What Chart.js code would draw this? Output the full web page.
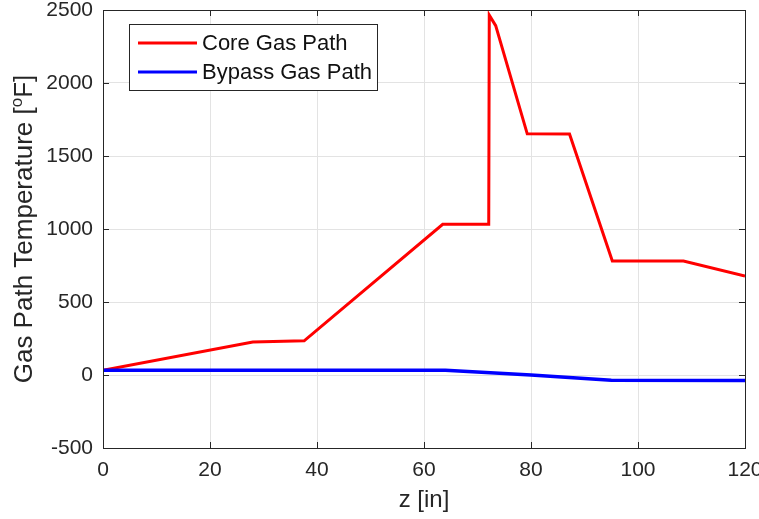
<!DOCTYPE html>
<html>
<head>
<meta charset="utf-8">
<script src="https://cdn.jsdelivr.net/npm/chart.js@4/dist/chart.umd.min.js"></script>
<style>
  html, body { margin: 0; padding: 0; background: #fff; }
  #wrap { width: 759px; height: 519px; }
</style>
</head>
<body>
<div id="wrap"><canvas id="myChart" width="759" height="519"></canvas></div>
<script>
// core gas path (red)
const coreZ = [0, 28, 37.6, 63.5, 72.1, 72.2, 73.4, 79.3, 87.2, 95.2, 108.5, 120];
const coreTemp = [33, 226, 234, 1032, 1032, 2465, 2393, 1652, 1650, 781, 781, 677];

// bypass gas path (blue)
const bypassZ = [0, 64, 80, 95, 120];
const bypassTemp = [33, 33, 0, -36, -37];

const seriesNames = ["Core Gas Path", "Bypass Gas Path"];
const seriesColors = ["#ff0000", "#0000ff"];

const xTicks = [0, 20, 40, 60, 80, 100, 120];
const yTicks = [-500, 0, 500, 1000, 1500, 2000, 2500];

const FONT = "'Liberation Sans', Arial, Helvetica, sans-serif";
const AXIS_COLOR = "#262626";

function toPoints(xs, ys) {
    return xs.map(function (x, i) { return { x: x, y: ys[i] }; });
}

// box round the axes, inward ticks, axis titles and the legend
const matlabLook = {
    id: "matlabLook",
    afterDraw: function (chart) {
        const ctx = chart.ctx;
        const a = chart.chartArea;
        const xs = chart.scales.x;
        const ys = chart.scales.y;
        ctx.save();

        // box
        ctx.strokeStyle = AXIS_COLOR;
        ctx.lineWidth = 1;
        ctx.strokeRect(Math.round(a.left) + 0.5, Math.round(a.top) + 0.5,
            Math.round(a.right - a.left), Math.round(a.bottom - a.top));

        // inward ticks
        ctx.beginPath();
        xTicks.forEach(function (v) {
            const px = Math.round(xs.getPixelForValue(v)) + 0.5;
            ctx.moveTo(px, a.bottom); ctx.lineTo(px, a.bottom - 6);
            ctx.moveTo(px, a.top); ctx.lineTo(px, a.top + 6);
        });
        yTicks.forEach(function (v) {
            const py = Math.round(ys.getPixelForValue(v)) + 0.5;
            ctx.moveTo(a.left, py); ctx.lineTo(a.left + 6, py);
            ctx.moveTo(a.right, py); ctx.lineTo(a.right - 6, py);
        });
        ctx.stroke();

        // x title
        ctx.fillStyle = AXIS_COLOR;
        ctx.font = "24px " + FONT;
        ctx.textAlign = "center";
        ctx.textBaseline = "middle";
        ctx.fillText("z [in]", (a.left + a.right) / 2, 500);

        // y title with superscript o
        const part1 = "Gas Path Temperature [";
        const sup = "o";
        const part2 = "F]";
        ctx.font = "26px " + FONT;
        const w1 = ctx.measureText(part1).width;
        const w3 = ctx.measureText(part2).width;
        ctx.font = "17px " + FONT;
        const w2 = ctx.measureText(sup).width;
        const total = w1 + w2 + w3;
        ctx.translate(25, (a.top + a.bottom) / 2);
        ctx.rotate(-Math.PI / 2);
        ctx.textAlign = "left";
        ctx.font = "26px " + FONT;
        ctx.fillText(part1, -total / 2, 0);
        ctx.font = "17px " + FONT;
        ctx.fillText(sup, -total / 2 + w1, -8);
        ctx.font = "26px " + FONT;
        ctx.fillText(part2, -total / 2 + w1 + w2, 0);
        ctx.setTransform(1, 0, 0, 1, 0, 0);

        // legend
        const lx = 129.5, ly = 24.5, lw = 248, lh = 66;
        ctx.fillStyle = "#ffffff";
        ctx.fillRect(lx, ly, lw, lh);
        ctx.strokeStyle = AXIS_COLOR;
        ctx.lineWidth = 1;
        ctx.strokeRect(lx, ly, lw, lh);
        const rowY = [43, 72];
        ctx.font = "22px " + FONT;
        ctx.textAlign = "left";
        ctx.textBaseline = "middle";
        seriesNames.forEach(function (name, i) {
            ctx.strokeStyle = seriesColors[i];
            ctx.lineWidth = 3;
            ctx.beginPath();
            ctx.moveTo(138, rowY[i]);
            ctx.lineTo(197, rowY[i]);
            ctx.stroke();
            ctx.fillStyle = "#111111";
            ctx.fillText(name, 202, rowY[i] + 1);
        });

        ctx.restore();
    }
};

const ctx = document.getElementById("myChart").getContext("2d");
const myChart = new Chart(ctx, {
    type: "line",
    data: {
        datasets: [
            {
                label: seriesNames[0],
                data: toPoints(coreZ, coreTemp),
                borderColor: seriesColors[0],
                borderWidth: 3,
                pointRadius: 0,
                tension: 0,
                order: 1
            },
            {
                label: seriesNames[1],
                data: toPoints(bypassZ, bypassTemp),
                borderColor: seriesColors[1],
                borderWidth: 3.5,
                pointRadius: 0,
                tension: 0,
                order: 0
            }
        ]
    },
    options: {
        responsive: false,
        animation: false,
        layout: { padding: { top: 10, right: 14, bottom: 0, left: 0 } },
        plugins: {
            legend: { display: false },
            tooltip: { enabled: false }
        },
        scales: {
            x: {
                type: "linear",
                min: 0,
                max: 120,
                afterBuildTicks: function (scale) {
                    scale.ticks = xTicks.map(function (v) { return { value: v }; });
                },
                afterFit: function (scale) {
                    scale.height = 71;
                    scale.paddingLeft = 0;
                    scale.paddingRight = 0;
                },
                grid: { color: "#e3e3e3", drawTicks: false },
                border: { display: false },
                ticks: {
                    padding: 10,
                    color: AXIS_COLOR,
                    font: { family: FONT, size: 21 },
                    maxRotation: 0,
                    callback: function (v) { return String(v); }
                }
            },
            y: {
                type: "linear",
                min: -500,
                max: 2500,
                afterBuildTicks: function (scale) {
                    scale.ticks = yTicks.map(function (v) { return { value: v }; });
                },
                afterFit: function (scale) {
                    scale.width = 103;
                    scale.paddingTop = 0;
                    scale.paddingBottom = 0;
                },
                grid: { color: "#e3e3e3", drawTicks: false },
                border: { display: false },
                ticks: {
                    padding: 10,
                    color: AXIS_COLOR,
                    font: { family: FONT, size: 21 },
                    callback: function (v) { return String(v); }
                }
            }
        }
    },
    plugins: [matlabLook]
});
</script>
</body>
</html>
